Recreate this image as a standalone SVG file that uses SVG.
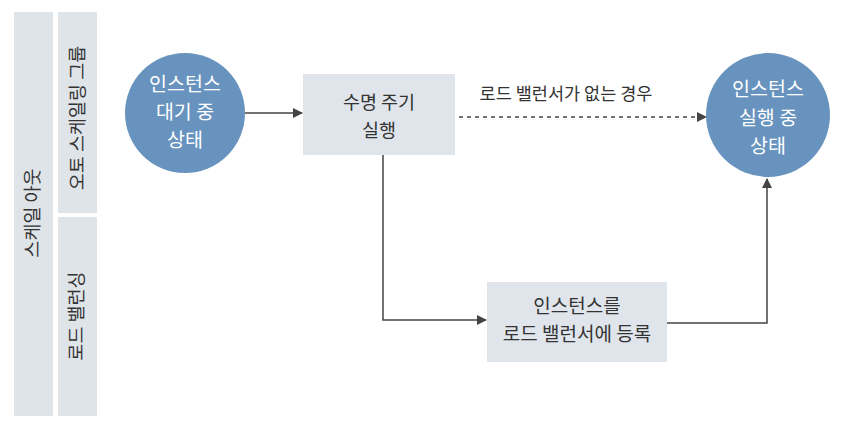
<svg xmlns="http://www.w3.org/2000/svg" width="856" height="442" viewBox="0 0 856 442">
  <style>
    .bar { fill: #dfe4e9; }
    .box { fill: #dfe5ea; }
    .state { fill: #6893bf; }
    .t { font-family: "Noto Sans CJK KR", "Noto Sans", sans-serif; fill: #333; text-anchor: middle; }
    .w { fill: #ffffff; }
    .line { fill: none; stroke: #444; stroke-width: 1.5; }
    .dash { stroke-dasharray: 4 4; }
  </style>
  <defs>
    <marker id="arr" viewBox="0 0 10 10" refX="9" refY="5" markerWidth="10" markerHeight="10" markerUnits="userSpaceOnUse" orient="auto">
      <path d="M0,0 L10,5 L0,10 Z" fill="#444"/>
    </marker>
  </defs>
  <rect width="856" height="442" fill="#ffffff"/>

  <g id="bar-scaleout">
    <rect class="bar" x="14" y="12" width="39" height="404"/>
    <text class="t" font-size="18.5" transform="translate(39,213) rotate(-90)">스케일 아웃</text>
  </g>
  <g id="bar-asg">
    <rect class="bar" x="58" y="12" width="39" height="201"/>
    <text class="t" font-size="18.5" transform="translate(84,118) rotate(-90)">오토 스케일링 그룹</text>
  </g>
  <g id="bar-lb">
    <rect class="bar" x="58" y="217" width="39" height="199"/>
    <text class="t" font-size="18.5" transform="translate(83,316) rotate(-90)">로드 밸런싱</text>
  </g>

  <g id="connectors">
    <line class="line" x1="245" y1="113" x2="302" y2="113" marker-end="url(#arr)"/>
    <line class="line dash" x1="459" y1="117" x2="706" y2="117" marker-end="url(#arr)"/>
    <polyline class="line" points="383,155 383,320 486,320" marker-end="url(#arr)"/>
    <polyline class="line" points="667,323 767,323 767,179" marker-end="url(#arr)"/>
    <text class="t" font-size="17.5" x="566" y="100">로드 밸런서가 없는 경우</text>
  </g>

  <g id="node-waiting">
    <circle class="state" cx="185" cy="113" r="60"/>
    <text class="t w" font-size="19.5" x="185" y="91">인스턴스</text>
    <text class="t w" font-size="19.5" x="185" y="119">대기 중</text>
    <text class="t w" font-size="19.5" x="185" y="147">상태</text>
  </g>

  <g id="node-lifecycle">
    <rect class="box" x="303" y="74" width="152" height="81"/>
    <text class="t" font-size="18.5" x="379" y="109">수명 주기</text>
    <text class="t" font-size="18.5" x="379" y="137">실행</text>
  </g>

  <g id="node-running">
    <circle class="state" cx="768" cy="115" r="62"/>
    <text class="t w" font-size="19.5" x="768" y="96">인스턴스</text>
    <text class="t w" font-size="19.5" x="768" y="125">실행 중</text>
    <text class="t w" font-size="19.5" x="768" y="153">상태</text>
  </g>

  <g id="node-register">
    <rect class="box" x="487" y="282" width="180" height="80"/>
    <text class="t" font-size="19" x="577" y="313">인스턴스를</text>
    <text class="t" font-size="19" x="577" y="341">로드 밸런서에 등록</text>
  </g>
</svg>
